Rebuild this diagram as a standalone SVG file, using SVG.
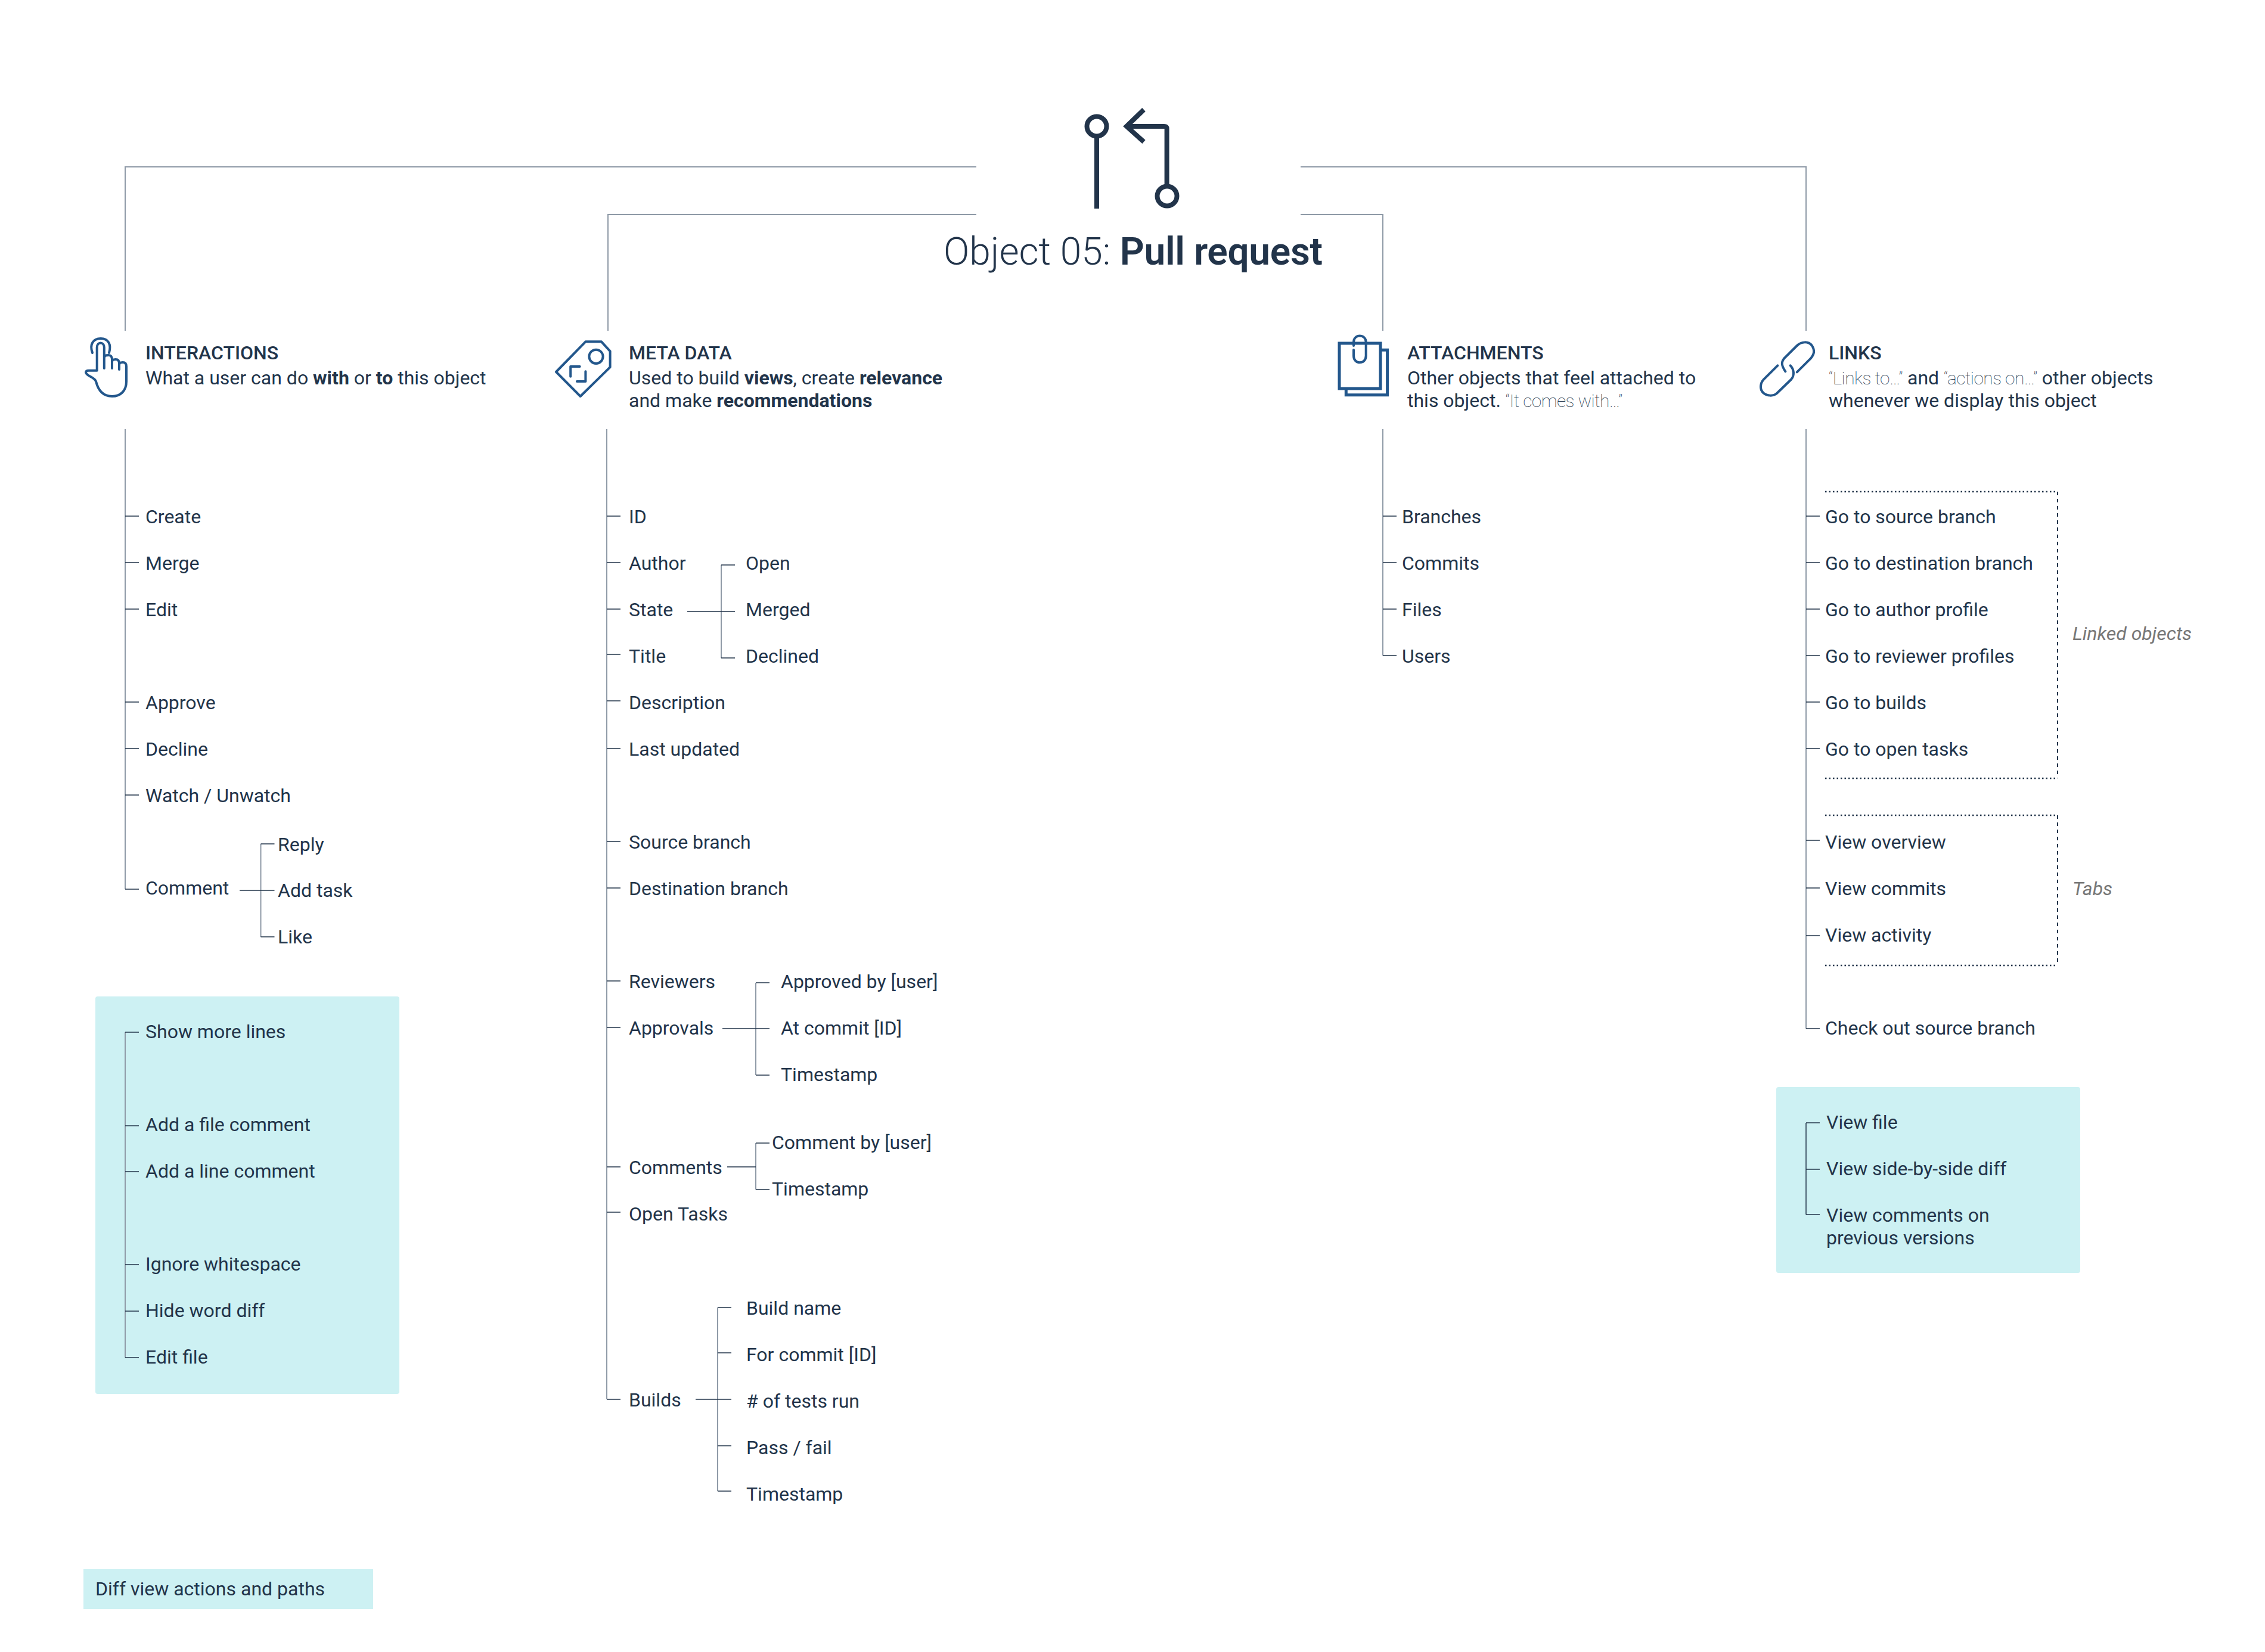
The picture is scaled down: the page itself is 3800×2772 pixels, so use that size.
<svg xmlns="http://www.w3.org/2000/svg" width="3800" height="2772" viewBox="0 0 3800 2772">
<style>
text{font-family:Roboto,"Noto Sans",sans-serif;font-size:32px;fill:#22344a}
.h{font-weight:500}.b{font-weight:700}.l{font-weight:100;font-size:30px;letter-spacing:-0.6px}
.ti{font-size:64px;font-weight:300}.tb{font-weight:600;letter-spacing:-0.3px}
.note{font-style:italic;fill:#777}
.box{fill:#cdf1f3}
.t{fill:none;stroke:#8f9aa7;stroke-width:2}
.k{fill:none;stroke:#22344a;stroke-width:1.5}
.ic{fill:none;stroke:#23578c;stroke-width:4;stroke-linecap:round;stroke-linejoin:round}
.pr{fill:none;stroke:#22344a;stroke-width:8}
.dh{fill:none;stroke:#22344a;stroke-width:2.5;stroke-dasharray:2.5 4}
.dv{fill:none;stroke:#22344a;stroke-width:2;stroke-dasharray:6 6}
</style>
<rect class="box" x="160" y="1672" width="510" height="667" rx="4"/>
<rect class="box" x="2980" y="1824" width="510" height="312" rx="4"/>
<rect class="box" x="140" y="2633" width="486" height="67"/>
<g id="connectors">
<path class="t" d="M1638 280H210V555M2182 280H3030V555M1638 360H1020V555M2182 360H2320V555"/>
<path class="t" d="M210 720V1492M1018 720V2348M2320 720V1100M3030 720V1726"/>
<path class="t" d="M437.500 1416V1572M1210 948V1104M1268 1649V1804M1268 1918V1996M1204 2194V2502M210 1732V2278"/>
<path class="k" d="M210 866h23M210 944h23M210 1022h23M210 1178h23M210 1256h23M210 1334h23M210 1492h23"/>
<path class="k" d="M437.500 1416h23M437.500 1572h23M402 1494h58.500"/>
<path class="k" d="M210 1732h23M210 1889h23M210 1966h23M210 2122h23M210 2200h23M210 2278h23"/>
<path class="k" d="M1018 866h23M1018 944h23M1018 1022h23M1018 1098h23M1018 1176h23M1018 1256h23M1018 1412h23M1018 1490h23M1018 1646h23M1018 1724h23M1018 1958h23M1018 2034h23M1018 2348h23"/>
<path class="k" d="M1210 948h23M1153 1026h80M1210 1104h23"/>
<path class="k" d="M1268 1649h23M1212 1726h79M1268 1804h23M1220 1958h48M1268 1918h23M1268 1996h23"/>
<path class="k" d="M1167 2348h60M1204 2194h23M1204 2270h23M1204 2426h23M1204 2502h23"/>
<path class="k" d="M2320 866h23M2320 944h23M2320 1022h23M2320 1100h23"/>
<path class="k" d="M3030 866h23M3030 944h23M3030 1022h23M3030 1100h23M3030 1178h23M3030 1256h23M3030 1410h23M3030 1490h23M3030 1570h23M3030 1726h23"/>
<path class="k" d="M3030 1884V2038M3030 1884h23M3030 1962h23M3030 2038h23"/>
<path class="dh" d="M3062 825H3452M3062 1306H3452M3062 1368H3452M3062 1620H3452"/>
<path class="dv" d="M3452 825V1306M3452 1368V1620"/>
</g>
<g id="title">
<circle class="pr" cx="1840" cy="212" r="16.500"/>
<path class="pr" d="M1840 228V350"/>
<path class="pr" d="M1919 184L1890 212L1919 238M1890 212H1953Q1957.600 212 1957.600 216V312"/>
<circle class="pr" cx="1958" cy="329" r="16.500"/>
<text x="1583" y="444" class="ti">Object 05: <tspan class="tb">Pull request</tspan></text>
</g>
<g id="interactions">
<path class="ic" d="M155 592C150 578 156 568 169 568C182 568 187 578 183 592M162.700 621.700V583C162.700 573 174.800 573 174.800 583V618M174.800 601C175 596 178 596 182 596C186 596 188 598 188 604V618M188 608C188 604 190 603 194 603C198 603 200 605 200 610V620M200 613C200 609 202 608 206 608C210 608 212 610 212 615V640C212 656 202 665 188 665C174 665 165 656 161 640C158 632 146 632 144 625C144 622 146 621.700 149 621.700H162.700"/>
<text x="244" y="603" class="h">INTERACTIONS</text>
<text x="244" y="645">What a user can do <tspan class="b">with</tspan> or <tspan class="b">to</tspan> this object</text>
<text x="244" y="878">Create</text><text x="244" y="956">Merge</text><text x="244" y="1034">Edit</text>
<text x="244" y="1190">Approve</text><text x="244" y="1268">Decline</text><text x="244" y="1346">Watch / Unwatch</text>
<text x="244" y="1501">Comment</text>
<text x="466" y="1428">Reply</text><text x="466" y="1505">Add task</text><text x="466" y="1583">Like</text>
<text x="244" y="1742">Show more lines</text><text x="244" y="1898">Add a file comment</text><text x="244" y="1976">Add a line comment</text>
<text x="244" y="2132">Ignore whitespace</text><text x="244" y="2210">Hide word diff</text><text x="244" y="2288">Edit file</text>
</g>
<g id="meta-data">
<path class="ic" d="M982.400 573.300H1009L1023.600 589.300V616L973.700 665L933 624Z"/>
<circle class="ic" cx="1000" cy="598.300" r="11.600"/>
<path class="ic" d="M972.700 615H957.200V631.700M967.900 640H982.400V623.300"/>
<text x="1055" y="603" class="h">META DATA</text>
<text x="1055" y="645">Used to build <tspan class="b">views</tspan>, create <tspan class="b">relevance</tspan></text>
<text x="1055" y="683">and make <tspan class="b">recommendations</tspan></text>
<text x="1055" y="878">ID</text><text x="1055" y="956">Author</text><text x="1055" y="1034">State</text><text x="1055" y="1112">Title</text><text x="1055" y="1190">Description</text><text x="1055" y="1268">Last updated</text>
<text x="1055" y="1424">Source branch</text><text x="1055" y="1502">Destination branch</text>
<text x="1055" y="1658">Reviewers</text><text x="1055" y="1736">Approvals</text><text x="1055" y="1970">Comments</text><text x="1055" y="2048">Open Tasks</text><text x="1055" y="2360">Builds</text>
<text x="1251" y="956">Open</text><text x="1251" y="1034">Merged</text><text x="1251" y="1112">Declined</text>
<text x="1310" y="1658">Approved by [user]</text><text x="1310" y="1736">At commit [ID]</text><text x="1310" y="1814">Timestamp</text>
<text x="1295" y="1928">Comment by [user]</text><text x="1295" y="2006">Timestamp</text>
<text x="1252" y="2206">Build name</text><text x="1252" y="2284">For commit [ID]</text><text x="1252" y="2362"># of tests run</text><text x="1252" y="2440">Pass / fail</text><text x="1252" y="2518">Timestamp</text>
</g>
<g id="attachments">
<path class="ic" style="stroke-width:5;stroke-linecap:butt;stroke-linejoin:miter" d="M2247 576H2316V652H2247ZM2316 587.300H2327.600V662.700H2258.300V652"/>
<path class="ic" d="M2271 587V597C2271 612 2291.700 612 2291.700 597V574C2291.700 560 2271 560 2271 574V580"/>
<text x="2361" y="603" class="h">ATTACHMENTS</text>
<text x="2361" y="645">Other objects that feel attached to</text>
<text x="2361" y="683">this object. <tspan class="l">“It comes with…”</tspan></text>
<text x="2352" y="878">Branches</text><text x="2352" y="956">Commits</text><text x="2352" y="1034">Files</text><text x="2352" y="1112">Users</text>
</g>
<g id="links">
<path class="ic" d="M2995.400 623.300C2989 614 2988 608 2993 601.700L3014.800 580C3022 573 3034 572 3040 580C3045 588 3044 594 3037.600 601.700L3014.800 624.300"/>
<path class="ic" d="M2982.400 613.300L2959 636.700C2953 643 2952 653 2958 659C2965 665 2975 665 2981 660L3005 636.700C3011 630 3010 620 3003.700 613.300"/>
<text x="3068" y="603" class="h">LINKS</text>
<text x="3068" y="645"><tspan class="l">“Links to…”</tspan> and <tspan class="l">“actions on…”</tspan> other objects</text>
<text x="3068" y="683">whenever we display this object</text>
<text x="3062" y="878">Go to source branch</text><text x="3062" y="956">Go to destination branch</text><text x="3062" y="1034">Go to author profile</text><text x="3062" y="1112">Go to reviewer profiles</text><text x="3062" y="1190">Go to builds</text><text x="3062" y="1268">Go to open tasks</text>
<text x="3062" y="1424">View overview</text><text x="3062" y="1502">View commits</text><text x="3062" y="1580">View activity</text><text x="3062" y="1736">Check out source branch</text>
<text x="3477" y="1074" class="note">Linked objects</text><text x="3477" y="1502" class="note">Tabs</text>
<text x="3064" y="1894">View file</text><text x="3064" y="1972">View side-by-side diff</text><text x="3064" y="2050">View comments on</text><text x="3064" y="2088">previous versions</text>
</g>
<g id="legend"><text x="160" y="2677">Diff view actions and paths</text></g>
</svg>
